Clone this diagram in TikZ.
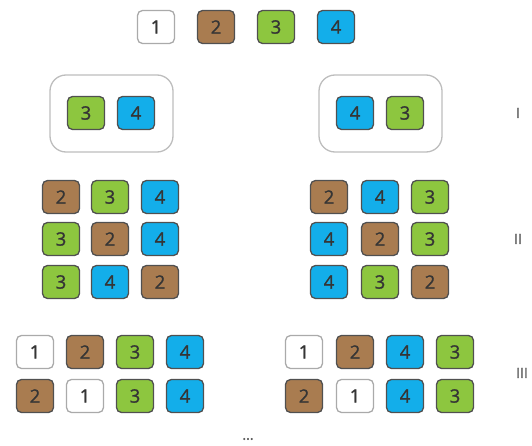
\documentclass[tikz,border=0pt]{standalone}
\usepackage{fontspec}
\setmainfont{Open Sans}
\newfontfamily\digitfont[FakeBold=1.2]{Open Sans}
\definecolor{cbrown}{HTML}{A97C50}
\definecolor{cgreen}{HTML}{8DC63F}
\definecolor{cblue}{HTML}{13AEEA}
\definecolor{cborder}{HTML}{505050}
\definecolor{ctext}{HTML}{353535}
\definecolor{cframe}{HTML}{BDBDBD}
\tikzset{
  bx/.style={draw=cborder, line width=1.3pt, rounded corners=5pt, minimum width=37pt, minimum height=33pt, inner sep=0pt, text=ctext, font=\digitfont\fontsize{18.5}{18.5}\selectfont},
  bone/.style={bx, draw=cframe!90!black, fill=white},
  btwo/.style={bx, fill=cbrown},
  bthree/.style={bx, fill=cgreen},
  bfour/.style={bx, fill=cblue},
  frm/.style={draw=cframe, line width=1.3pt, rounded corners=16pt},
  lvl/.style={text=black!65, font=\digitfont\fontsize{14}{14}\selectfont},
}
\begin{document}
\begin{tikzpicture}[x=1pt,y=-1pt]
\useasboundingbox (0,0) rectangle (532,446);
% top row
\node[bone]   (t1) at (156,27) {1};
\node[btwo]   (t2) at (216,27) {2};
\node[bthree] (t3) at (276,27) {3};
\node[bfour]  (t4) at (336,27) {4};
% level I
\draw[frm] (50,75) rectangle (173,152);
\node[bthree] (a3) at (86,113) {3};
\node[bfour]  (a4) at (136,113) {4};
\draw[frm] (319,75) rectangle (442,152);
\node[bfour]  (b4) at (355,113) {4};
\node[bthree] (b3) at (405,113) {3};
\node[lvl] (L1) at (518,113) {I};
% level II left
\node[btwo]   (p11) at (61,197) {2};
\node[bthree] (p12) at (110,197) {3};
\node[bfour]  (p13) at (160,197) {4};
\node[bthree] (p21) at (61,239) {3};
\node[btwo]   (p22) at (110,239) {2};
\node[bfour]  (p23) at (160,239) {4};
\node[bthree] (p31) at (61,282) {3};
\node[bfour]  (p32) at (110,282) {4};
\node[btwo]   (p33) at (160,282) {2};
% level II right
\node[btwo]   (q11) at (329,197) {2};
\node[bfour]  (q12) at (380,197) {4};
\node[bthree] (q13) at (430,197) {3};
\node[bfour]  (q21) at (329,239) {4};
\node[btwo]   (q22) at (380,239) {2};
\node[bthree] (q23) at (430,239) {3};
\node[bfour]  (q31) at (329,282) {4};
\node[bthree] (q32) at (380,282) {3};
\node[btwo]   (q33) at (430,282) {2};
\node[lvl] (L2) at (518,239) {II};
% level III left
\node[bone]   (r11) at (35,352) {1};
\node[btwo]   (r12) at (85,352) {2};
\node[bthree] (r13) at (135,352) {3};
\node[bfour]  (r14) at (185,352) {4};
\node[btwo]   (r21) at (35,396) {2};
\node[bone]   (r22) at (85,396) {1};
\node[bthree] (r23) at (135,396) {3};
\node[bfour]  (r24) at (185,396) {4};
% level III right
\node[bone]   (s11) at (304,352) {1};
\node[btwo]   (s12) at (355,352) {2};
\node[bfour]  (s13) at (405,352) {4};
\node[bthree] (s14) at (455,352) {3};
\node[btwo]   (s21) at (304,396) {2};
\node[bone]   (s22) at (355,396) {1};
\node[bfour]  (s23) at (405,396) {4};
\node[bthree] (s24) at (455,396) {3};
\node[lvl] (L3) at (522,373) {III};
\node[lvl] (dots) at (248,439) {...};
\end{tikzpicture}
\end{document}
